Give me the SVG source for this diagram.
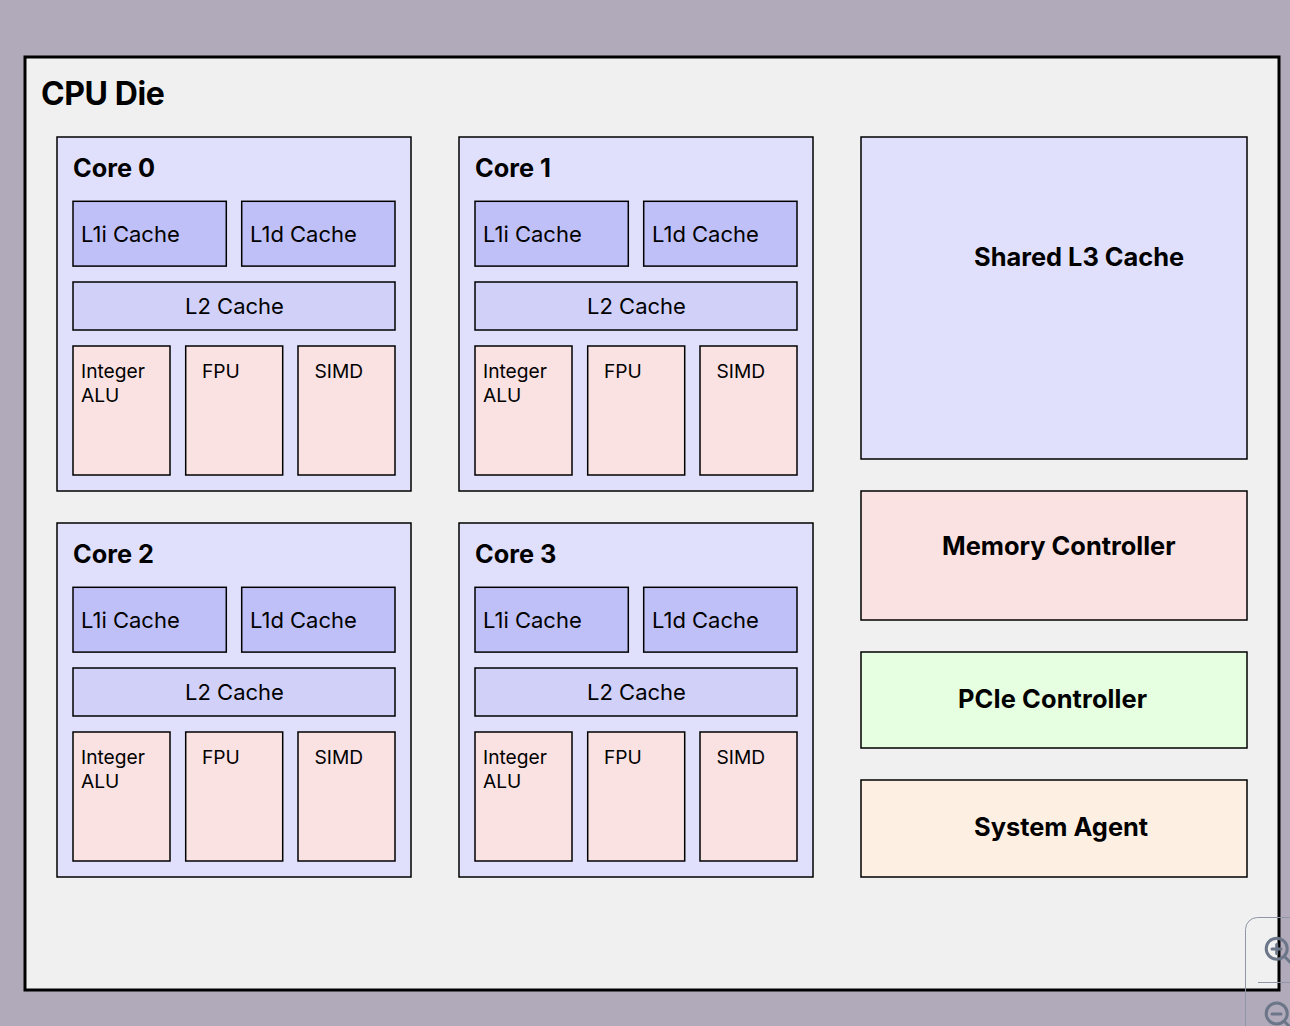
<svg xmlns="http://www.w3.org/2000/svg" width="1290" height="1026" viewBox="0 0 1290 1026">
<style>
text{font-family:Inter,"Liberation Sans",sans-serif;fill:#000}
rect{stroke:#000;stroke-width:1.5}
.h1{font-size:32px;font-weight:700;letter-spacing:-.4px}
.h2{font-size:25.3px;font-weight:700}
.h3{font-size:25.4px;font-weight:700}
.c{font-size:22px}
.u{font-size:19.2px}
.core{fill:#e0e0fc}
.l1{fill:#c0c0f8}
.l2{fill:#d0d0f9}
.ex{fill:#fae2e2}
.zoom{fill:none;stroke:#6b7688;stroke-width:3;stroke-linecap:round}
</style>
<rect x="0" y="0" width="1290" height="1026" style="fill:#b0aaba;stroke:none"/>
<g id="die"><rect x="25" y="57" width="1254" height="933" fill="#f0f0f0" style="stroke:#000;stroke-width:3"/><text class="h1" x="41" y="105">CPU Die</text></g>
<g id="core0" transform="translate(0 0)"><rect class="core" x="57" y="137" width="354" height="354"/><text class="h2" x="73" y="177">Core 0</text><rect class="l1" x="73" y="201.300" width="153.300" height="64.800"/><text class="c" x="81" y="242">L1i Cache</text><rect class="l1" x="241.700" y="201.300" width="153.300" height="64.800"/><text class="c" x="250" y="242">L1d Cache</text><rect class="l2" x="73" y="282" width="322" height="48"/><text class="c" x="234.500" y="314" text-anchor="middle">L2 Cache</text><rect class="ex" x="73" y="346" width="97" height="129"/><text class="u" x="81" y="378">Integer</text><text class="u" x="81" y="402">ALU</text><rect class="ex" x="185.700" y="346" width="97" height="129"/><text class="u" x="202" y="378">FPU</text><rect class="ex" x="298" y="346" width="97" height="129"/><text class="u" x="314.500" y="378">SIMD</text></g>
<g id="core1" transform="translate(402 0)"><rect class="core" x="57" y="137" width="354" height="354"/><text class="h2" x="73" y="177">Core 1</text><rect class="l1" x="73" y="201.300" width="153.300" height="64.800"/><text class="c" x="81" y="242">L1i Cache</text><rect class="l1" x="241.700" y="201.300" width="153.300" height="64.800"/><text class="c" x="250" y="242">L1d Cache</text><rect class="l2" x="73" y="282" width="322" height="48"/><text class="c" x="234.500" y="314" text-anchor="middle">L2 Cache</text><rect class="ex" x="73" y="346" width="97" height="129"/><text class="u" x="81" y="378">Integer</text><text class="u" x="81" y="402">ALU</text><rect class="ex" x="185.700" y="346" width="97" height="129"/><text class="u" x="202" y="378">FPU</text><rect class="ex" x="298" y="346" width="97" height="129"/><text class="u" x="314.500" y="378">SIMD</text></g>
<g id="core2" transform="translate(0 386)"><rect class="core" x="57" y="137" width="354" height="354"/><text class="h2" x="73" y="177">Core 2</text><rect class="l1" x="73" y="201.300" width="153.300" height="64.800"/><text class="c" x="81" y="242">L1i Cache</text><rect class="l1" x="241.700" y="201.300" width="153.300" height="64.800"/><text class="c" x="250" y="242">L1d Cache</text><rect class="l2" x="73" y="282" width="322" height="48"/><text class="c" x="234.500" y="314" text-anchor="middle">L2 Cache</text><rect class="ex" x="73" y="346" width="97" height="129"/><text class="u" x="81" y="378">Integer</text><text class="u" x="81" y="402">ALU</text><rect class="ex" x="185.700" y="346" width="97" height="129"/><text class="u" x="202" y="378">FPU</text><rect class="ex" x="298" y="346" width="97" height="129"/><text class="u" x="314.500" y="378">SIMD</text></g>
<g id="core3" transform="translate(402 386)"><rect class="core" x="57" y="137" width="354" height="354"/><text class="h2" x="73" y="177">Core 3</text><rect class="l1" x="73" y="201.300" width="153.300" height="64.800"/><text class="c" x="81" y="242">L1i Cache</text><rect class="l1" x="241.700" y="201.300" width="153.300" height="64.800"/><text class="c" x="250" y="242">L1d Cache</text><rect class="l2" x="73" y="282" width="322" height="48"/><text class="c" x="234.500" y="314" text-anchor="middle">L2 Cache</text><rect class="ex" x="73" y="346" width="97" height="129"/><text class="u" x="81" y="378">Integer</text><text class="u" x="81" y="402">ALU</text><rect class="ex" x="185.700" y="346" width="97" height="129"/><text class="u" x="202" y="378">FPU</text><rect class="ex" x="298" y="346" width="97" height="129"/><text class="u" x="314.500" y="378">SIMD</text></g>
<g id="l3"><rect x="861" y="137" width="386" height="322" fill="#e0e0fc"/><text class="h3" x="974" y="266">Shared L3 Cache</text></g>
<g id="memory"><rect x="861" y="491" width="386" height="129" fill="#fae2e2"/><text class="h3" x="942" y="555">Memory Controller</text></g>
<g id="pcie"><rect x="861" y="652" width="386" height="96" fill="#e6ffe0"/><text class="h3" x="958" y="708" style="letter-spacing:.12px">PCIe Controller</text></g>
<g id="agent"><rect x="861" y="780" width="386" height="97" fill="#fdf0e3"/><text class="h3" x="974" y="836">System Agent</text></g>
<g id="zoom-controls">
<path d="M1290 917.500H1257.500a12 12 0 0 0-12 12V1026M1258 982.500H1290" fill="none" stroke="#8f97a6" stroke-width="1"/>
<circle class="zoom" cx="1276.700" cy="948.700" r="10.500"/><path class="zoom" d="M1285 957L1290 962M1272 949H1281M1276.700 944.500V953.500"/>
<circle class="zoom" cx="1276.700" cy="1013.500" r="10.500"/><path class="zoom" d="M1285 1022L1289 1026M1272 1014H1281"/>
</g>
</svg>
